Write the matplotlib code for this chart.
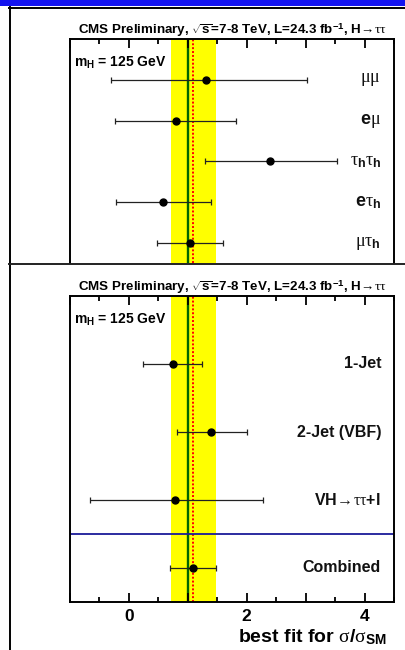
import numpy as np
import matplotlib
matplotlib.use('Agg')
import matplotlib.pyplot as plt
from matplotlib.lines import Line2D
from matplotlib.patches import Rectangle
from matplotlib.ticker import MultipleLocator, FuncFormatter

plt.rcParams['font.family'] = ['Liberation Sans', 'DejaVu Sans']
plt.rcParams['font.weight'] = 'bold'
plt.rcParams['axes.titleweight'] = 'bold'
plt.rcParams['mathtext.fontset'] = 'custom'
plt.rcParams['mathtext.rm'] = 'Liberation Sans:weight=bold'
plt.rcParams['mathtext.bf'] = 'Liberation Sans:weight=bold'
plt.rcParams['mathtext.sf'] = 'Liberation Sans:weight=bold'
plt.rcParams['mathtext.it'] = 'Liberation Serif:style=normal:weight=normal'

# top panel: decay channels
chan_labels = [r'$\mathit{\mu\mu}$', r'$\mathbf{e}\mathit{\mu}$',
               r'$\mathit{\tau}_\mathbf{h}\mathit{\tau}_\mathbf{h}$',
               r'$\mathbf{e}\mathit{\tau}_\mathbf{h}$', r'$\mathit{\mu\tau}_\mathbf{h}$']
chan_mu = [1.31, 0.80, 2.40, 0.58, 1.04]
chan_lo = [-0.31, -0.24, 1.29, -0.22, 0.48]
chan_hi = [3.02, 1.81, 3.53, 1.40, 1.60]

# bottom panel: categories
cat_labels = ['1-Jet', '2-Jet (VBF)', r'VH$\mathit{\!\rightarrow\!\tau\tau}$+l', 'Combined']
cat_mu = [0.75, 1.40, 0.78, 1.09]
cat_lo = [0.24, 0.82, -0.66, 0.70]
cat_hi = [1.24, 2.00, 2.27, 1.48]

comb_mu = 1.09
comb_lo, comb_hi = 0.71, 1.48
sm_val = 1.0

title = r'CMS Preliminary, $\sqrt{\mathrm{s}}$=7-8 TeV, L=24.3 fb$^{\mathrm{-1}}$, H$\mathit{\!\rightarrow\!\tau\tau}$'

W, H = 405, 650
fig = plt.figure(figsize=(W/100, H/100), dpi=100)


def px_axes(x0, y0, x1, y1):
    # pixel box (top-left origin) -> figure fraction
    return fig.add_axes([x0/W, 1-y1/H, (x1-x0)/W, (y1-y0)/H])


def draw_panel(ax, labels, mu, lo, hi, ylo, yhi, show_bottom, lab_size):
    n = len(labels)
    ypos = np.arange(n)[::-1]
    mu = np.array(mu); lo = np.array(lo); hi = np.array(hi)
    ax.axvspan(comb_lo, comb_hi, color='#ffff00', lw=0, zorder=0)
    ax.axvline(sm_val, color='#006600', lw=1.7, zorder=1)
    ax.axvline(comb_mu, color='#ff0000', lw=1.4, ls=(0, (1, 1)), zorder=1)
    ax.errorbar(mu, ypos, xerr=[mu-lo, hi-mu], fmt='o', color='black', ecolor='#222222',
                ms=5, elinewidth=0.9, capsize=2, capthick=0.9, zorder=3)
    for y, lab in zip(ypos, labels):
        ax.text(4.28, y, lab, ha='right', va='center', fontsize=lab_size, color='#111111')
    ax.set_xlim(-1, 4.5)
    ax.set_ylim(ylo, yhi)
    ax.set_yticks([])
    ax.xaxis.set_major_locator(MultipleLocator(1))
    ax.xaxis.set_minor_locator(MultipleLocator(0.5))
    ax.xaxis.set_major_formatter(FuncFormatter(lambda v, p: f'{v:.0f}' if round(v) % 2 == 0 else ''))
    ax.tick_params(axis='x', which='both', direction='in', top=True, bottom=show_bottom,
                   labelbottom=show_bottom, width=1.3, labelsize=12.5, pad=5)
    ax.tick_params(axis='x', which='major', length=6.5)
    ax.tick_params(axis='x', which='minor', length=3.5)
    for s in ax.spines.values():
        s.set_linewidth(1.4)
    if not show_bottom:
        ax.spines['bottom'].set_visible(False)
    ax.set_title(title, fontsize=9.6, pad=3)
    ax.annotate(r'$\mathbf{m}_\mathbf{H}$ = 125 GeV', xy=(0, 1), xycoords='axes fraction',
                xytext=(3, -20), textcoords='offset points', ha='left', va='baseline', fontsize=10)
    return ypos


ax1 = px_axes(70, 39, 394, 263)
draw_panel(ax1, chan_labels, chan_mu, chan_lo, chan_hi, -0.49, 5.0, False, 13)

ax2 = px_axes(70, 296, 394, 602)
draw_panel(ax2, cat_labels, cat_mu, cat_lo, cat_hi, -0.5, 4.0, True, 11.5)
ax2.axhline(0.5, color='#1a1a99', lw=1.3, zorder=2)

fig.text(387/W, 1-642/H, r'best fit for $\mathit{\sigma}/\mathit{\sigma}_{\mathbf{SM}}$',
         ha='right', va='baseline', fontsize=14)

# slide decorations
fig.add_artist(Rectangle((0, 1-6/H), 1, 6/H, transform=fig.transFigure, color='#1414f0', lw=0))
fig.add_artist(Line2D([9/W, 1], [1-7.5/H, 1-7.5/H], transform=fig.transFigure, color='black', lw=1.4))
fig.add_artist(Line2D([9.5/W, 9.5/W], [0, 1-7/H], transform=fig.transFigure, color='black', lw=1.4))
fig.add_artist(Line2D([9/W, 1], [1-264/H, 1-264/H], transform=fig.transFigure, color='#222222', lw=1.4))

fig.savefig('out.png', dpi=100)
